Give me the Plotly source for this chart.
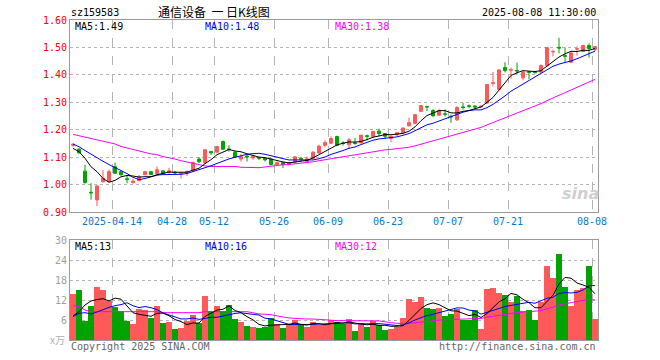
import pandas as pd
import plotly.graph_objects as go

# ---------------- data ----------------
holidays = ["2025-04-04", "2025-05-01", "2025-05-02", "2025-05-05", "2025-06-02"]
dates = [d.strftime("%Y-%m-%d") for d in pd.bdate_range("2025-04-02", "2025-08-08")
         if d.strftime("%Y-%m-%d") not in holidays]

opens = [1.143, 1.129, 1.049, 0.972, 0.944, 1.010, 1.011, 1.065, 1.047, 1.021,
         1.007, 1.014, 1.036, 1.047, 1.039, 1.050, 1.044, 1.045, 1.039, 1.043,
         1.050, 1.093, 1.079, 1.121, 1.118, 1.157, 1.130, 1.118, 1.093, 1.104,
         1.097, 1.098, 1.096, 1.093, 1.073, 1.080, 1.073, 1.082, 1.095, 1.084,
         1.096, 1.115, 1.143, 1.151, 1.175, 1.152, 1.145, 1.152, 1.152, 1.178,
         1.176, 1.195, 1.186, 1.168, 1.181, 1.189, 1.214, 1.223, 1.267, 1.285,
         1.270, 1.253, 1.258, 1.249, 1.236, 1.283, 1.287, 1.286, 1.283, 1.297,
         1.369, 1.347, 1.427, 1.417, 1.416, 1.389, 1.411, 1.410, 1.410, 1.434,
         1.484, 1.500, 1.470, 1.446, 1.494, 1.485, 1.507, 1.492]
highs = [1.150, 1.133, 1.072, 1.005, 0.998, 1.053, 1.055, 1.080, 1.050, 1.032,
         1.021, 1.035, 1.050, 1.050, 1.066, 1.052, 1.061, 1.050, 1.044, 1.051,
         1.084, 1.100, 1.128, 1.122, 1.141, 1.161, 1.143, 1.122, 1.111, 1.109,
         1.108, 1.100, 1.100, 1.096, 1.084, 1.083, 1.083, 1.104, 1.100, 1.102,
         1.122, 1.145, 1.161, 1.176, 1.178, 1.158, 1.170, 1.170, 1.182, 1.182,
         1.196, 1.204, 1.188, 1.179, 1.192, 1.208, 1.244, 1.258, 1.290, 1.286,
         1.275, 1.276, 1.274, 1.255, 1.286, 1.298, 1.292, 1.290, 1.290, 1.367,
         1.410, 1.420, 1.446, 1.426, 1.445, 1.414, 1.412, 1.413, 1.438, 1.502,
         1.492, 1.535, 1.500, 1.485, 1.503, 1.510, 1.515, 1.505]
lows = [1.138, 1.112, 1.004, 0.945, 0.922, 1.008, 1.009, 1.039, 1.032, 1.005,
        1.004, 1.012, 1.034, 1.034, 1.036, 1.039, 1.039, 1.036, 1.022, 1.031,
        1.048, 1.078, 1.076, 1.108, 1.116, 1.126, 1.120, 1.098, 1.084, 1.084,
        1.090, 1.090, 1.084, 1.070, 1.070, 1.060, 1.070, 1.078, 1.084, 1.080,
        1.094, 1.112, 1.137, 1.148, 1.140, 1.142, 1.133, 1.145, 1.150, 1.161,
        1.170, 1.176, 1.166, 1.154, 1.178, 1.186, 1.212, 1.220, 1.265, 1.268,
        1.246, 1.250, 1.248, 1.225, 1.232, 1.273, 1.278, 1.276, 1.278, 1.294,
        1.358, 1.344, 1.409, 1.386, 1.402, 1.380, 1.384, 1.404, 1.406, 1.430,
        1.467, 1.478, 1.445, 1.443, 1.470, 1.483, 1.463, 1.487]
closes = [1.147, 1.116, 1.007, 0.970, 0.995, 1.023, 1.047, 1.041, 1.036, 1.019,
          1.013, 1.028, 1.047, 1.037, 1.054, 1.041, 1.050, 1.043, 1.043, 1.048,
          1.080, 1.083, 1.127, 1.116, 1.139, 1.129, 1.128, 1.100, 1.102, 1.101,
          1.102, 1.096, 1.090, 1.073, 1.080, 1.073, 1.080, 1.101, 1.093, 1.094,
          1.118, 1.140, 1.153, 1.168, 1.143, 1.150, 1.163, 1.150, 1.180, 1.176,
          1.194, 1.186, 1.176, 1.176, 1.189, 1.206, 1.226, 1.255, 1.288, 1.283,
          1.251, 1.270, 1.256, 1.247, 1.281, 1.281, 1.285, 1.283, 1.285, 1.365,
          1.371, 1.418, 1.416, 1.419, 1.414, 1.410, 1.409, 1.409, 1.434, 1.499,
          1.485, 1.498, 1.468, 1.480, 1.495, 1.507, 1.496, 1.503]
volumes = [13.8, 15.0, 5.8, 10.2, 15.9, 15.0, 11.7, 10.0, 8.6, 5.8,
           4.8, 9.3, 9.0, 6.7, 10.2, 5.1, 5.4, 3.3, 3.6, 5.8,
           7.5, 5.2, 13.3, 8.7, 10.2, 8.7, 10.4, 6.3, 5.4, 4.2,
           3.9, 3.6, 4.0, 6.5, 4.7, 3.6, 4.7, 6.0, 4.5, 4.0,
           5.4, 4.5, 4.5, 6.0, 5.5, 4.8, 6.3, 2.8, 5.0, 3.9,
           5.7, 4.5, 3.0, 3.4, 4.0, 6.6, 12.3, 11.5, 12.9, 9.7,
           9.3, 9.7, 7.2, 7.9, 9.3, 6.1, 6.1, 9.0, 3.3, 15.3,
           15.6, 14.1, 13.5, 11.4, 13.2, 8.8, 9.0, 6.0, 11.4, 22.2,
           18.6, 25.8, 15.9, 10.2, 15.0, 15.6, 22.2, 6.3]

# moving-average values before enough visible history exists
ma5_head = [1.132, 1.120, 1.096, 1.065]
ma10_head = [1.148, 1.138, 1.124, 1.110, 1.097, 1.085, 1.073, 1.062, 1.052]
ma30_head = [1.183, 1.178, 1.173, 1.168, 1.163, 1.159, 1.154, 1.148, 1.139, 1.133,
             1.127, 1.121, 1.117, 1.112, 1.109, 1.102, 1.098, 1.093, 1.087, 1.082,
             1.076, 1.072, 1.068, 1.066, 1.066, 1.066, 1.066, 1.066, 1.063]
vma5_head = [7.2, 8.5, 10.5, 11.7]
vma10_head = [7.0, 8.0, 8.2, 7.8, 8.4, 9.2, 9.8, 10.3, 10.6]
vma30_head = [10.3, 10.0, 9.0, 8.5, 8.5, 8.5, 8.5, 8.5, 8.5, 8.5,
              8.5, 8.5, 8.5, 8.5, 8.5, 8.2, 8.2, 8.2, 8.2, 8.2,
              8.2, 8.2, 8.5, 8.5, 8.5, 8.5, 8.5, 8.5, 8.5]

tick_dates = ["2025-04-14", "2025-04-28", "2025-05-12", "2025-05-26", "2025-06-09",
              "2025-06-23", "2025-07-07", "2025-07-21", "2025-08-08"]
tick_labels = ["2025-04-14", "04-28", "05-12", "05-26", "06-09",
               "06-23", "07-07", "07-21", "08-08"]

# ---------------- helpers ----------------
def moving_avg(vals, n, head):
    out = list(head)
    for i in range(len(head), len(vals)):
        out.append(sum(vals[i - n + 1:i + 1]) / n)
    return out

ma5 = moving_avg(closes, 5, ma5_head)
ma10 = moving_avg(closes, 10, ma10_head)
ma30 = moving_avg(closes, 30, ma30_head)
vma5 = moving_avg(volumes, 5, vma5_head)
vma10 = moving_avg(volumes, 10, vma10_head)
vma30 = moving_avg(volumes, 30, vma30_head)

x = list(range(len(dates)))
RED = "#ff5959"
GREEN = "#00a300"
vol_colors = [RED if c >= o else GREEN for o, c in zip(opens, closes)]

MONO = "DejaVu Sans Mono"
W, H = 660, 360
L, R, T, B = 70, 62, 20, 20
PW, PH = W - L - R, H - T - B

def px(X):
    return (X - L) / PW

def py(Y):
    return (H - B - Y) / PH

fig = go.Figure()
fig.add_trace(go.Candlestick(
    x=x, open=opens, high=highs, low=lows, close=closes,
    increasing=dict(line=dict(color=RED, width=1), fillcolor=RED),
    decreasing=dict(line=dict(color=GREEN, width=1), fillcolor=GREEN),
    whiskerwidth=0, xaxis="x", yaxis="y", text=dates, hoverinfo="text+y"))
for vals, col in [(ma30, "#ff00ff"), (ma10, "#0000ff"), (ma5, "#000000")]:
    fig.add_trace(go.Scatter(x=x, y=vals, mode="lines", line=dict(color=col, width=1),
                             xaxis="x", yaxis="y", hoverinfo="skip"))
fig.add_trace(go.Bar(x=x, y=volumes, marker=dict(color=vol_colors, line=dict(width=0)),
                     width=0.86, xaxis="x2", yaxis="y2", hoverinfo="y"))
for vals, col in [(vma30, "#ff00ff"), (vma10, "#0000ff"), (vma5, "#000000")]:
    fig.add_trace(go.Scatter(x=x, y=vals, mode="lines", line=dict(color=col, width=1),
                             xaxis="x2", yaxis="y2", hoverinfo="skip"))

tickvals = [dates.index(d) - 0.5 for d in tick_dates]
grid = "#b4b4b4"
frame = "#9a9a9a"
xcommon = dict(range=[-0.5, len(dates) - 0.5], tickvals=tickvals, showgrid=True,
               gridcolor=grid, griddash="dash", gridwidth=1, showline=True,
               linecolor=frame, linewidth=1, mirror=True, ticks="", zeroline=False,
               fixedrange=True)

fig.update_layout(
    width=W, height=H, margin=dict(l=L, r=R, t=T, b=B),
    paper_bgcolor="white", plot_bgcolor="white", showlegend=False,
    bargap=0,
    xaxis=dict(**xcommon, domain=[0, 1], anchor="y", ticktext=tick_labels,
               tickfont=dict(family=MONO, size=10, color="#0a78cc"),
               rangeslider=dict(visible=False)),
    yaxis=dict(domain=[py(212), 1], range=[0.9, 1.6], dtick=0.1, tick0=0.9,
               tickformat=".2f", tickfont=dict(family=MONO, size=10, color="#ff0000"),
               showgrid=True, gridcolor=grid, griddash="dot", showline=True,
               linecolor=frame, mirror=True, ticks="", zeroline=False),
    xaxis2=dict(**xcommon, domain=[0, 1], anchor="y2", matches="x",
                showticklabels=False),
    yaxis2=dict(domain=[0, py(240)], range=[0, 30], tickvals=[6, 12, 18, 24, 30],
                tickfont=dict(family=MONO, size=10, color="#a0a0a0"),
                showgrid=True, gridcolor=grid, griddash="dot", showline=True,
                linecolor=frame, mirror=True, ticks="", zeroline=False),
)

def txt(X, Y, s, color="#000000", anchor="left", size=10, family=MONO):
    fig.add_annotation(x=px(X), y=py(Y), xref="paper", yref="paper", text=s,
                       showarrow=False, xanchor=anchor, yanchor="middle",
                       font=dict(family=family, size=size, color=color), borderpad=0)

txt(70, 12, "sz159583")
txt(214, 11.5, "通信设备&nbsp;&nbsp;一&nbsp;日K线图", anchor="center", size=12,
    family="Noto Sans CJK SC")
txt(597, 12, "2025-08-08 11:30:00", anchor="right")
txt(74, 26.5, "MA5:%.2f" % (int(ma5[-1] * 100) / 100))
txt(204, 26.5, "MA10:%.2f" % (int(ma10[-1] * 100) / 100), color="#0000ff")
txt(334, 26.5, "MA30:%.2f" % (int(ma30[-1] * 100) / 100), color="#ff00ff")
txt(74, 246.5, "MA5:%d" % int(vma5[-1]))
txt(204, 246.5, "MA10:%d" % int(vma10[-1]), color="#0000ff")
txt(334, 246.5, "MA30:%d" % int(vma30[-1]), color="#ff00ff")
txt(66, 339, "x万", color="#b0b0b0", anchor="right", size=10, family="Noto Sans CJK SC")
txt(70, 346, "Copyright 2025 SINA.COM", color="#666666")
txt(597, 346, "http://finance.sina.com.cn", color="#666666", anchor="right")
txt(580, 193, "<b><i>sina</i></b>", color="#cfcfcf", anchor="center", size=16,
    family="DejaVu Sans")

# remove the browser's default 8px page margin so the figure sits at the window origin
fig.write_html("out.html", config={"displayModeBar": False},
               post_script="document.body.style.margin='0px';")
